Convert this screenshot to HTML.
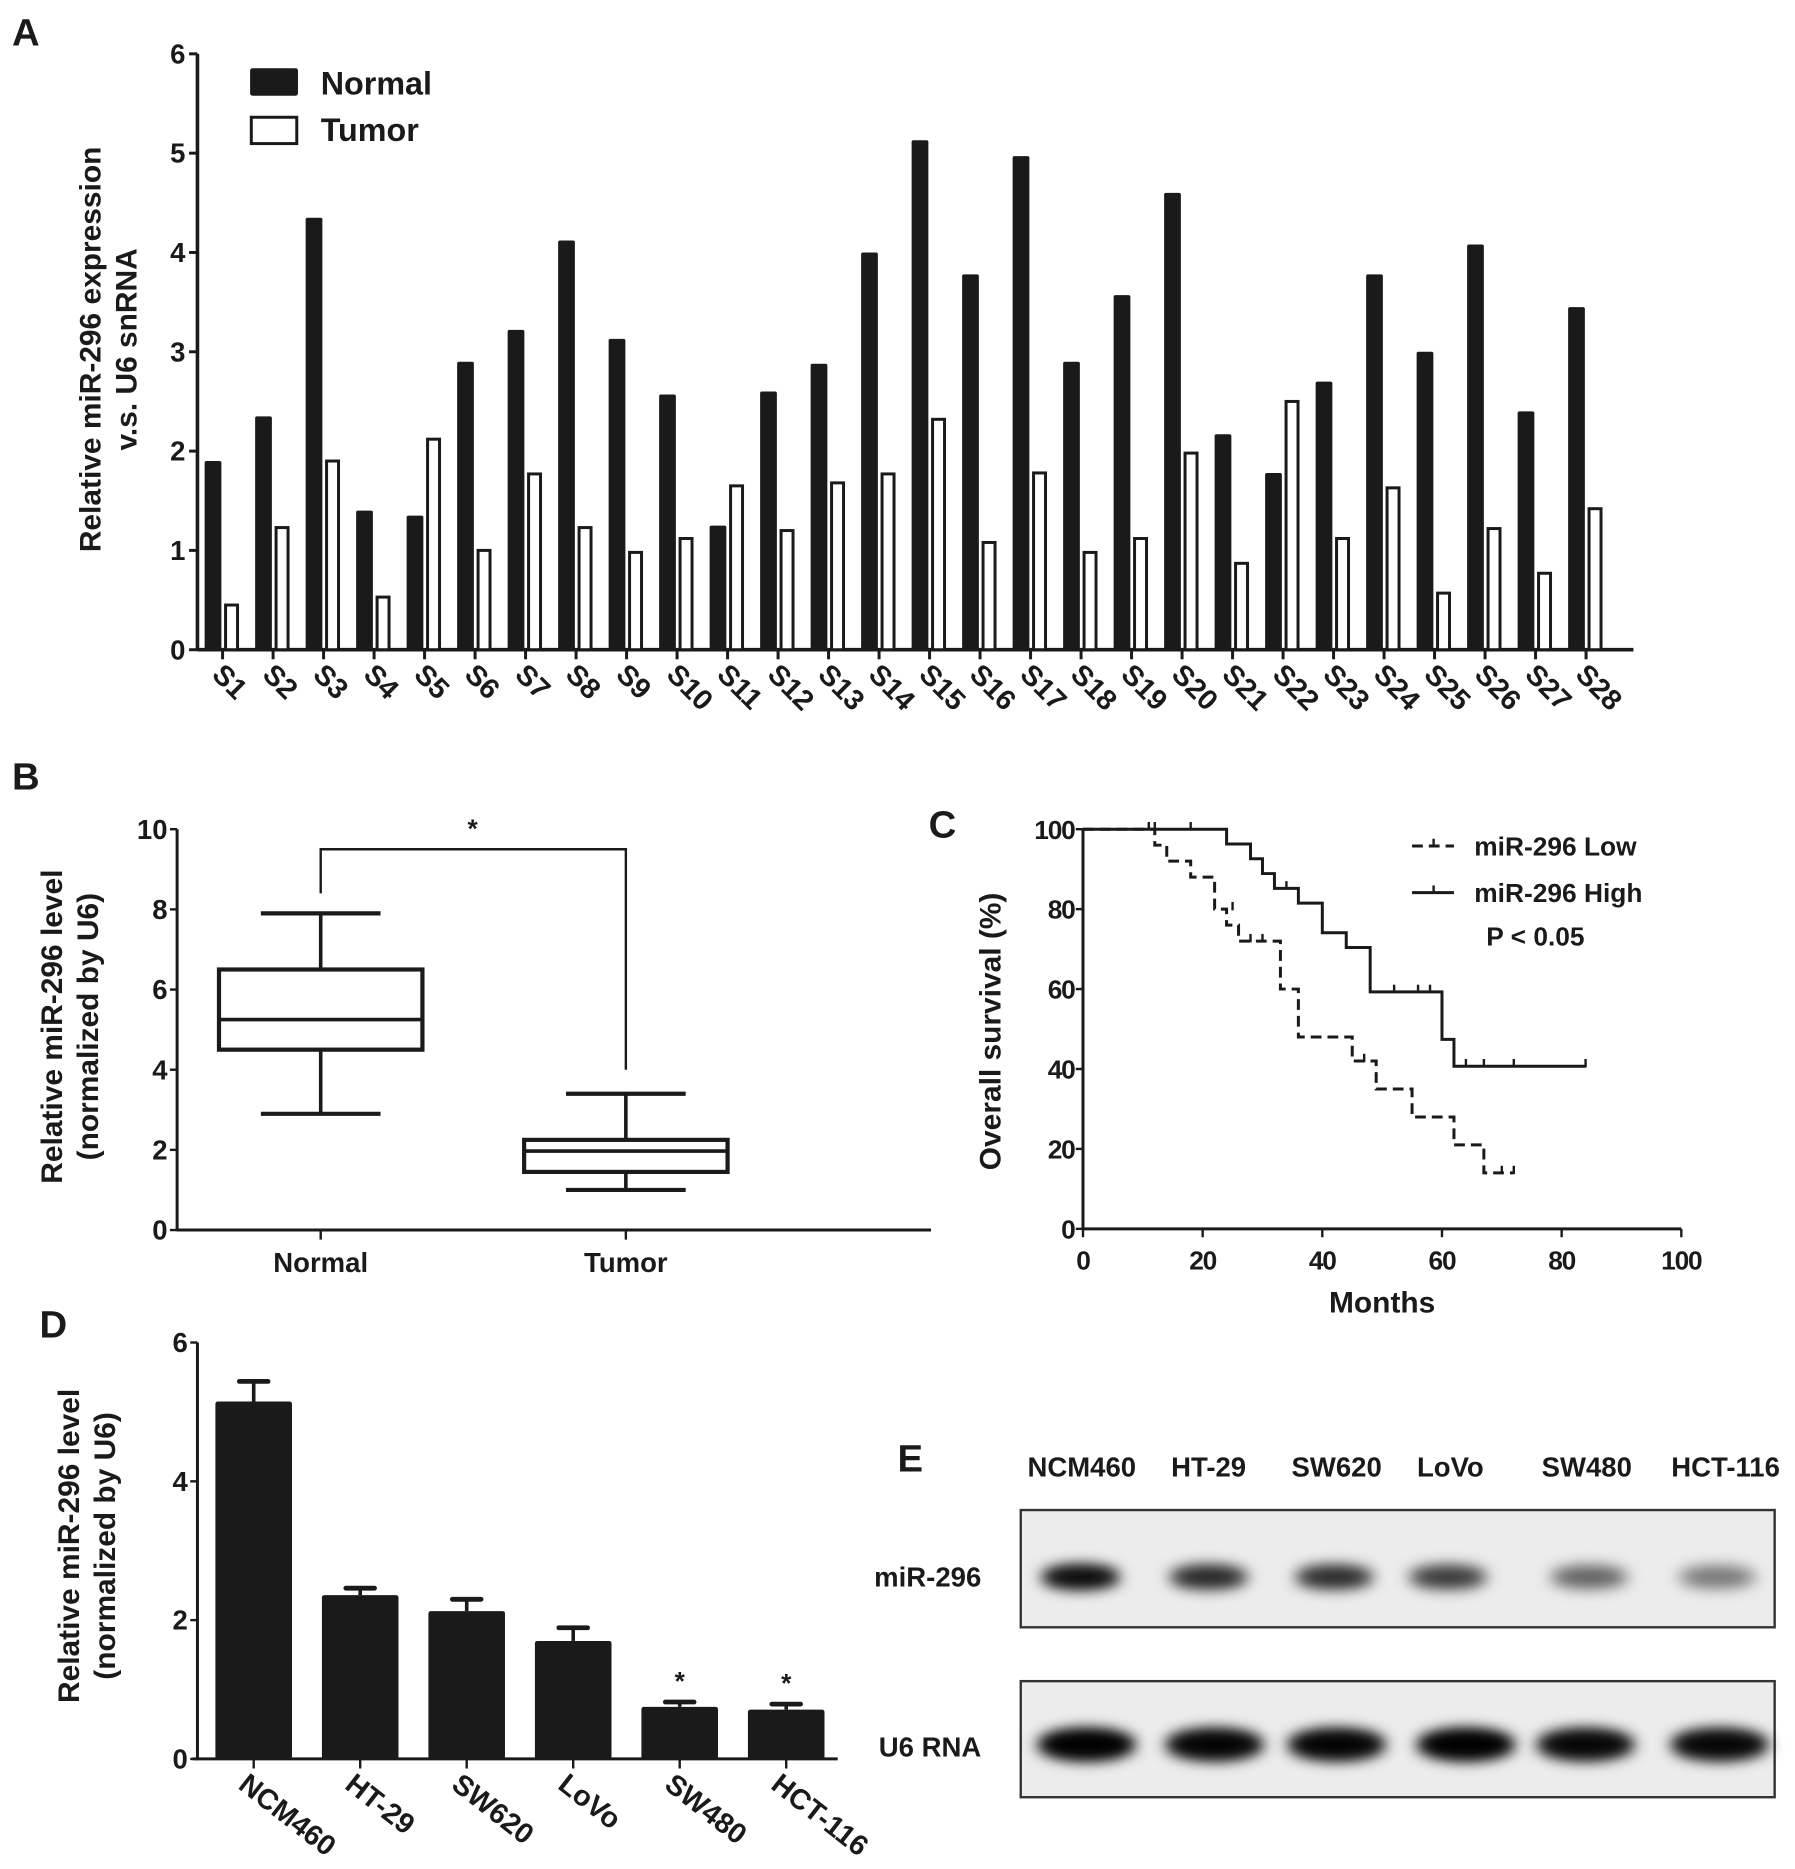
<!DOCTYPE html>
<html><head><meta charset="utf-8"><style>
html,body{margin:0;padding:0;background:#fff;}
svg{display:block;}
text{font-family:"Liberation Sans",Arial,sans-serif;font-weight:bold;fill:#1a1a1a;}
</style></head><body>
<svg id="fig" width="1795" height="1869" viewBox="0 0 1500 1562" preserveAspectRatio="none" xmlns="http://www.w3.org/2000/svg">
<defs>
<filter id="blur" x="-50%" y="-100%" width="200%" height="300%"><feGaussianBlur stdDeviation="6"/></filter>
</defs>
<g id="A"></g>
<g id="B"></g>
<g id="C"></g>
<g id="D"></g>
<g id="E"></g>
</svg>
<script>
// ---- Panel A data ----
const samples = ["S1","S2","S3","S4","S5","S6","S7","S8","S9","S10","S11","S12","S13","S14","S15","S16","S17","S18","S19","S20","S21","S22","S23","S24","S25","S26","S27","S28"];
const normalVals = [1.9,2.35,4.35,1.4,1.35,2.9,3.22,4.12,3.13,2.57,1.25,2.6,2.88,4.0,5.13,3.78,4.97,2.9,3.57,4.6,2.17,1.78,2.7,3.78,3.0,4.08,2.4,3.45];
const tumorVals = [0.45,1.23,1.9,0.53,2.12,1.0,1.77,1.23,0.98,1.12,1.65,1.2,1.68,1.77,2.32,1.08,1.78,0.98,1.12,1.98,0.87,2.5,1.12,1.63,0.57,1.22,0.77,1.42];
const aTicks = [0,1,2,3,4,5,6];
// ---- Panel B data ----
const boxGroups = ["Normal","Tumor"];
const boxMin = [2.9,1.0];
const boxQ1 = [4.5,1.45];
const boxMed = [5.25,1.97];
const boxQ3 = [6.5,2.25];
const boxMax = [7.9,3.4];
const bTicks = [0,2,4,6,8,10];
// ---- Panel C data ----
const lowT = [0,12,14,18,22,24,26,33,36,45,49,55,62,67,72];
const lowS = [100,96,92,88,80,76,72,60,48,42,35,28,21,14,14];
const lowCens = [[25,80],[28,72],[30,72],[47,42],[70,14],[72,14]];
const highT = [0,24,28,30,32,36,40,44,48,60,62,84];
const highS = [100,96.3,92.6,88.9,85.2,81.5,74.1,70.4,59.3,47.4,40.7,40.7];
const highCens = [[11,100],[12,100],[18,100],[34,85.2],[52,59.3],[56,59.3],[58,59.3],[64,40.7],[67,40.7],[72,40.7],[84,40.7]];
const cXTicks = [0,20,40,60,80,100];
const cYTicks = [0,20,40,60,80,100];
// ---- Panel D data ----
const cellLines = ["NCM460","HT-29","SW620","LoVo","SW480","HCT-116"];
const cellMeans = [5.15,2.36,2.13,1.70,0.75,0.71];
const cellErr = [0.29,0.10,0.17,0.19,0.07,0.08];
const cellSig = [false,false,false,false,true,true];
const dTicks = [0,2,4,6];
// ---- Panel E data ----
const mirIntensity = [0.9,0.7,0.68,0.6,0.42,0.34];
const u6Intensity = [1,0.95,0.95,1,0.92,0.92];

const NS="http://www.w3.org/2000/svg";
function mk(parent,tag,attrs,txt){const e=document.createElementNS(NS,tag);for(const k in attrs)e.setAttribute(k,attrs[k]);if(txt!==undefined)e.textContent=txt;parent.appendChild(e);return e;}
const K="#1a1a1a";

// ===== Panel A =====
(function(){
const g=document.getElementById('A');
const x0=165,x1=1365,y0=543,yTop=45;
const ys=v=>y0-(y0-yTop)*v/6;
const xc=i=>186+i*42.2;
let t=mk(g,'text',{x:10,y:38,'font-size':32});t.textContent='A';

let ax=mk(g,'line',{x1:x0,y1:yTop,x2:x0,y2:y0+1,stroke:K,'stroke-width':3});

ax=mk(g,'line',{x1:x0,y1:y0,x2:x1,y2:y0,stroke:K,'stroke-width':3});

aTicks.forEach(v=>{
 mk(g,'line',{x1:x0-7,y1:ys(v),x2:x0,y2:ys(v),stroke:K,'stroke-width':2.5});
 const l=mk(g,'text',{x:x0-10,y:ys(v)+8,'font-size':23,'text-anchor':'end'},String(v));
 
});
samples.forEach((s,i)=>{
 const c=xc(i);
 const b=mk(g,'rect',{x:c-15,y:ys(normalVals[i]),width:14,height:y0-ys(normalVals[i]),fill:K,rx:1.5});
 
 const w=mk(g,'rect',{x:c+2.5,y:ys(tumorVals[i]),width:10,height:y0-ys(tumorVals[i]),fill:'#fff',stroke:K,'stroke-width':2.5});
 
 mk(g,'line',{x1:c,y1:y0,x2:c,y2:y0+8,stroke:K,'stroke-width':2.5});
 const l=mk(g,'text',{x:0,y:0,'font-size':24,transform:`translate(${c-10},${y0+22}) rotate(45)`},s);
 
});
const ty=mk(g,'text',{x:0,y:0,'font-size':25,'text-anchor':'middle',transform:'translate(84,292) rotate(-90)'},'Relative miR-296 expression');

const ty2=mk(g,'text',{x:0,y:0,'font-size':25,'text-anchor':'middle',transform:'translate(114,292) rotate(-90)'},'v.s. U6 snRNA');

let le=mk(g,'rect',{x:209,y:57,width:40,height:23,fill:K,rx:2});

le=mk(g,'text',{x:268,y:79,'font-size':27},'Normal');

le=mk(g,'rect',{x:210,y:98,width:38,height:22,fill:'#fff',stroke:K,'stroke-width':2.5});

le=mk(g,'text',{x:268,y:118,'font-size':27},'Tumor');

})();

// ===== Panel B =====
(function(){
const g=document.getElementById('B');
const x0=148,x1=778,y0=1028,yTop=693;
const ys=v=>y0-(y0-yTop)*v/10;
const xc=[268,523];
let t=mk(g,'text',{x:10,y:660,'font-size':32},'B');

let a=mk(g,'line',{x1:x0,y1:yTop,x2:x0,y2:y0+1,stroke:K,'stroke-width':2.5});

a=mk(g,'line',{x1:x0,y1:y0,x2:x1,y2:y0,stroke:K,'stroke-width':2.5});

bTicks.forEach(v=>{
 mk(g,'line',{x1:x0-6,y1:ys(v),x2:x0,y2:ys(v),stroke:K,'stroke-width':2});
 const l=mk(g,'text',{x:x0-8,y:ys(v)+8,'font-size':23,'text-anchor':'end'},String(v));
 
});
boxGroups.forEach((n,i)=>{
 const c=xc[i],hw=85,cw=50;
 const bg=mk(g,'g',{});
 
 mk(bg,'line',{x1:c,y1:ys(boxMax[i]),x2:c,y2:ys(boxMin[i]),stroke:K,'stroke-width':3});
 mk(bg,'line',{x1:c-cw,y1:ys(boxMax[i]),x2:c+cw,y2:ys(boxMax[i]),stroke:K,'stroke-width':3.5});
 mk(bg,'line',{x1:c-cw,y1:ys(boxMin[i]),x2:c+cw,y2:ys(boxMin[i]),stroke:K,'stroke-width':3.5});
 mk(bg,'rect',{x:c-hw,y:ys(boxQ3[i]),width:2*hw,height:ys(boxQ1[i])-ys(boxQ3[i]),fill:'#fff',stroke:K,'stroke-width':3.5});
 mk(bg,'line',{x1:c-hw,y1:ys(boxMed[i]),x2:c+hw,y2:ys(boxMed[i]),stroke:K,'stroke-width':3});
 mk(g,'line',{x1:c,y1:y0,x2:c,y2:y0+8,stroke:K,'stroke-width':2});
 const l=mk(g,'text',{x:c,y:y0+35,'font-size':23,'text-anchor':'middle'},n);
 
});
const br=mk(g,'polyline',{points:`${xc[0]},${ys(8.4)} ${xc[0]},${ys(9.5)} ${xc[1]},${ys(9.5)} ${xc[1]},${ys(4.0)}`,fill:'none',stroke:K,'stroke-width':2});

const st=mk(g,'text',{x:395,y:700,'font-size':22,'text-anchor':'middle'},'*');

let ty=mk(g,'text',{x:0,y:0,'font-size':25,'text-anchor':'middle',transform:'translate(52,858) rotate(-90)'},'Relative miR-296 level');

ty=mk(g,'text',{x:0,y:0,'font-size':25,'text-anchor':'middle',transform:'translate(82,858) rotate(-90)'},'(normalized by U6)');

})();

// ===== Panel C =====
(function(){
const g=document.getElementById('C');
const X0=905,X1=1405,Y0=1027,Y1=693;
const xs=v=>X0+(X1-X0)*v/100, ys=v=>Y0-(Y0-Y1)*v/100;
let t=mk(g,'text',{x:776,y:700,'font-size':32},'C');

let a=mk(g,'line',{x1:X0,y1:Y1,x2:X0,y2:Y0+1,stroke:K,'stroke-width':2.5});

a=mk(g,'line',{x1:X0,y1:Y0,x2:X1,y2:Y0,stroke:K,'stroke-width':2.5});

cYTicks.forEach(v=>{
 mk(g,'line',{x1:X0-6,y1:ys(v),x2:X0,y2:ys(v),stroke:K,'stroke-width':2});
 const l=mk(g,'text',{x:X0-7,y:ys(v)+8,'font-size':22,'text-anchor':'end','letter-spacing':'-1'},String(v));
 
});
cXTicks.forEach(v=>{
 mk(g,'line',{x1:xs(v),y1:Y0,x2:xs(v),y2:Y0+7,stroke:K,'stroke-width':2});
 const l=mk(g,'text',{x:xs(v),y:Y0+34,'font-size':22,'text-anchor':'middle','letter-spacing':'-1'},String(v));
 
});
function stepPath(T,S){let d=`M${xs(T[0])},${ys(S[0])}`;for(let i=1;i<T.length;i++){d+=` H${xs(T[i])} V${ys(S[i])}`;}return d;}
const low=mk(g,'path',{d:stepPath(lowT,lowS),fill:'none',stroke:K,'stroke-width':2.5,'stroke-dasharray':'9,5'});

const high=mk(g,'path',{d:stepPath(highT,highS),fill:'none',stroke:K,'stroke-width':2.5});

lowCens.concat(highCens).forEach(p=>{
 const c=mk(g,'line',{x1:xs(p[0]),y1:ys(p[1])-6,x2:xs(p[0]),y2:ys(p[1])+1,stroke:K,'stroke-width':2});
 
});
mk(g,'line',{x1:1180,y1:707,x2:1215,y2:707,stroke:K,'stroke-width':2.5,'stroke-dasharray':'9,5'});
mk(g,'line',{x1:1198,y1:701,x2:1198,y2:707,stroke:K,'stroke-width':2});
let le=mk(g,'text',{x:1232,y:715,'font-size':22},'miR-296 Low');

mk(g,'line',{x1:1180,y1:746,x2:1215,y2:746,stroke:K,'stroke-width':2.5});
mk(g,'line',{x1:1198,y1:740,x2:1198,y2:746,stroke:K,'stroke-width':2});
le=mk(g,'text',{x:1232,y:754,'font-size':22},'miR-296 High');

le=mk(g,'text',{x:1242,y:790,'font-size':22},'P < 0.05');

let ty=mk(g,'text',{x:0,y:0,'font-size':25,'text-anchor':'middle',transform:'translate(836,862) rotate(-90)'},'Overall survival (%)');

ty=mk(g,'text',{x:1155,y:1097,'font-size':25,'text-anchor':'middle'},'Months');

})();

// ===== Panel D =====
(function(){
const g=document.getElementById('D');
const x0=165,x1=700,y0=1470,yTop=1122;
const ys=v=>y0-(y0-yTop)*v/6;
const xl=i=>180+i*89, bw=64;
let t=mk(g,'text',{x:33,y:1118,'font-size':32},'D');

let a=mk(g,'line',{x1:x0,y1:yTop,x2:x0,y2:y0+1,stroke:K,'stroke-width':2.5});

a=mk(g,'line',{x1:x0-4,y1:y0,x2:x1,y2:y0,stroke:K,'stroke-width':2.5});

dTicks.forEach(v=>{
 mk(g,'line',{x1:x0-6,y1:ys(v),x2:x0,y2:ys(v),stroke:K,'stroke-width':2});
 const l=mk(g,'text',{x:x0-8,y:ys(v)+8,'font-size':23,'text-anchor':'end'},String(v));
 
});
cellLines.forEach((n,i)=>{
 const l0=xl(i),c=l0+bw/2;
 const top=ys(cellMeans[i]+cellErr[i]);
 mk(g,'line',{x1:c,y1:top,x2:c,y2:ys(cellMeans[i]),stroke:K,'stroke-width':3});
 mk(g,'line',{x1:c-12,y1:top,x2:c+12,y2:top,stroke:K,'stroke-width':4,'stroke-linecap':'round'});
 const b=mk(g,'rect',{x:l0,y:ys(cellMeans[i]),width:bw,height:y0-ys(cellMeans[i]),fill:K,rx:2});
 
 if(cellSig[i]){const s=mk(g,'text',{x:c,y:top-10,'font-size':22,'text-anchor':'middle'},'*');
  }
 mk(g,'line',{x1:c,y1:y0,x2:c,y2:y0+8,stroke:K,'stroke-width':2});
 const lb=mk(g,'text',{x:0,y:0,'font-size':24,transform:`translate(${c-14},${y0+24}) rotate(38)`},n);
 
});
let ty=mk(g,'text',{x:0,y:0,'font-size':25,'text-anchor':'middle',transform:'translate(66,1292) rotate(-90)'},'Relative miR-296 level');

ty=mk(g,'text',{x:0,y:0,'font-size':25,'text-anchor':'middle',transform:'translate(96,1292) rotate(-90)'},'(normalized by U6)');

})();

// ===== Panel E =====
(function(){
const g=document.getElementById('E');
let t=mk(g,'text',{x:750,y:1230,'font-size':32},'E');

const labX=[904,1010,1117,1212,1326,1442];
cellLines.forEach((n,i)=>{
 const l=mk(g,'text',{x:labX[i],y:1234,'font-size':23,'text-anchor':'middle'},n);
 
});
const boxes=[[1262,1360,mirIntensity,'mir-296-blot',1318,34,16],[1405,1502,u6Intensity,'u6-blot',1458,42,22]];
const bandX=[[903,1010,1115,1210,1328,1435],[908,1015,1117,1225,1325,1437]];
boxes.forEach((b,k)=>{
 const bg=mk(g,'g',{});
 
 mk(bg,'rect',{x:853,y:b[0],width:630,height:b[1]-b[0],fill:'#ececec',stroke:'#333','stroke-width':2});
 b[2].forEach((v,i)=>{
  const e=mk(bg,'ellipse',{cx:bandX[k][i],cy:b[4],rx:b[5],ry:b[6]/2+2,fill:'#000','fill-opacity':v,filter:'url(#blur)'});
  
  mk(bg,'ellipse',{cx:bandX[k][i],cy:b[4],rx:b[5]*0.8,ry:b[6]/2-1,fill:'#000','fill-opacity':v*0.8,filter:'url(#blur)'});
 });
});
let r=mk(g,'text',{x:820,y:1326,'font-size':23,'text-anchor':'end'},'miR-296');

r=mk(g,'text',{x:820,y:1468,'font-size':23,'text-anchor':'end'},'U6 RNA');

})();
</script>
</body></html>
